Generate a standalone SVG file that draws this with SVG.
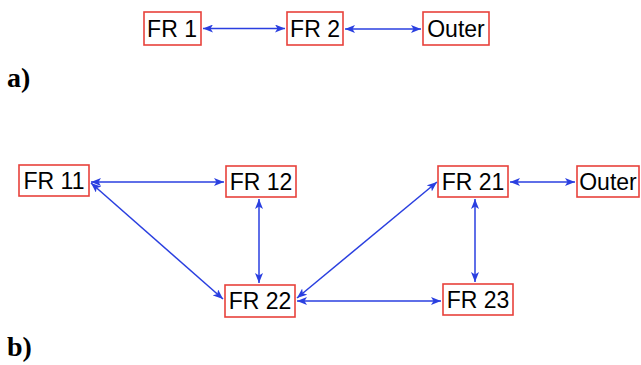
<svg xmlns="http://www.w3.org/2000/svg" width="641" height="365" viewBox="0 0 641 365">
<style>
.box{fill:#fff;stroke:#e8413b;stroke-width:1.6}
.lbl{font-family:"Liberation Sans",Arial,sans-serif;font-size:23px;fill:#000;text-anchor:middle}
.cap{font-family:"Liberation Serif","Times New Roman",serif;font-size:28px;font-weight:bold;fill:#000}
.edge{stroke:#2a3fe0;stroke-width:1.5;fill:none;marker-start:url(#ah);marker-end:url(#ah)}
</style>
<defs>
<marker id="ah" viewBox="0 0 10 8" refX="10" refY="4" markerWidth="10" markerHeight="8" markerUnits="userSpaceOnUse" orient="auto-start-reverse">
<path d="M0,0 L10,4 L0,8 L2.5,4 Z" fill="#2a3fe0"/>
</marker>
</defs>
<g id="connectors">
<line class="edge" x1="203" y1="28.5" x2="285" y2="28.5"/>
<line class="edge" x1="345" y1="29" x2="421" y2="29"/>
<line class="edge" x1="91" y1="182" x2="224" y2="182"/>
<line class="edge" x1="510" y1="182" x2="575" y2="182"/>
<line class="edge" x1="259" y1="199" x2="259" y2="283"/>
<line class="edge" x1="475" y1="199" x2="475" y2="282"/>
<line class="edge" x1="297" y1="301" x2="441" y2="301"/>
<line class="edge" x1="91" y1="183" x2="223" y2="299"/>
<line class="edge" x1="297" y1="298" x2="437" y2="182"/>
</g>
<g id="fr1"><rect class="box" x="144" y="12" width="57" height="33"/><text class="lbl" x="172" y="37">FR 1</text></g>
<g id="fr2"><rect class="box" x="287" y="12" width="56" height="33"/><text class="lbl" x="315" y="37">FR 2</text></g>
<g id="outer-a"><rect class="box" x="423" y="12" width="66" height="33"/><text class="lbl" x="456" y="37">Outer</text></g>
<text class="cap" x="7" y="87">a)</text>
<g id="fr11"><rect class="box" x="19" y="165" width="70" height="31"/><text class="lbl" x="54" y="189">FR 11</text></g>
<g id="fr12"><rect class="box" x="226" y="166" width="70" height="31"/><text class="lbl" x="261" y="190">FR 12</text></g>
<g id="fr21"><rect class="box" x="438" y="166" width="70" height="31"/><text class="lbl" x="473" y="190">FR 21</text></g>
<g id="outer-b"><rect class="box" x="577" y="166" width="62" height="31"/><text class="lbl" x="608" y="190">Outer</text></g>
<g id="fr22"><rect class="box" x="225" y="285" width="70" height="32"/><text class="lbl" x="260" y="309">FR 22</text></g>
<g id="fr23"><rect class="box" x="443" y="284" width="70" height="31"/><text class="lbl" x="478" y="308">FR 23</text></g>
<text class="cap" x="7" y="356">b)</text>
</svg>
